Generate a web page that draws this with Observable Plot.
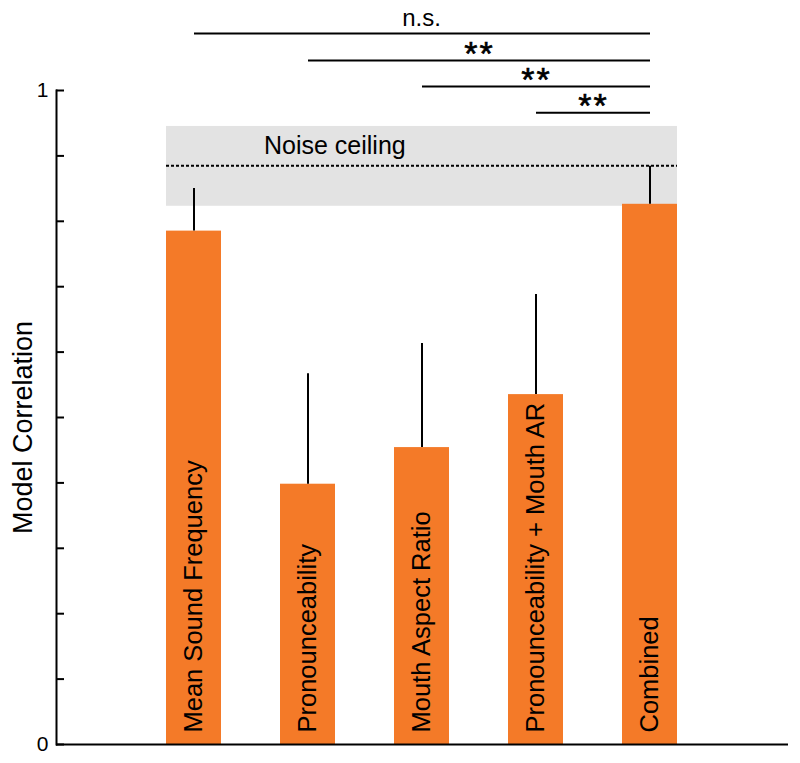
<!DOCTYPE html>
<html>
<head>
<meta charset="utf-8">
<script src="https://cdn.jsdelivr.net/npm/d3@7"></script>
<script src="https://cdn.jsdelivr.net/npm/@observablehq/plot@0.6"></script>
<style>
  html, body { margin: 0; padding: 0; background: #fff; }
  #chart svg { display: block; }
</style>
</head>
<body>
<div id="chart"></div>
<script>
// ---- data ----
const models = ["Mean Sound Frequency", "Pronounceability", "Mouth Aspect Ratio", "Pronounceability + Mouth AR", "Combined"];
const correlations = [0.785, 0.398, 0.454, 0.535, 0.826];
const errorTops = [0.850, 0.567, 0.613, 0.688, 0.884];

const noiseLower = 0.823;
const noiseUpper = 0.945;
const noiseCeiling = 0.884;
const noiseLabel = "Noise ceiling";

const compareFrom = ["Mean Sound Frequency", "Pronounceability", "Mouth Aspect Ratio", "Pronounceability + Mouth AR"];
const compareTo = ["Combined", "Combined", "Combined", "Combined"];
const compareLevel = [1.087, 1.046, 1.006, 0.966];
const compareLabel = ["n.s.", "**", "**", "**"];

const yTicks = [0, 0.1, 0.2, 0.3, 0.4, 0.5, 0.6, 0.7, 0.8, 0.9, 1];
const yTickLabels = [0, 1];
const yLabel = "Model Correlation";

// ---- layout / style ----
const FONT = "'Liberation Sans', Arial, Helvetica, sans-serif";
const W = 800, H = 763;
const M = {left: 56, right: 12, top: 90, bottom: 19};
const innerW = W - M.left - M.right;
const ORANGE = "#f47a28";

const data = models.map((m, i) => ({model: m, r: correlations[i], upper: errorTops[i]}));
const comparisons = compareFrom.map((f, i) => ({from: f, to: compareTo[i], level: compareLevel[i], label: compareLabel[i]}));

// noise ceiling band + dotted line, spanning from first to last bar, using Plot's scales
const noiseMark = (index, scales) => {
  const {x, y} = scales;
  const bw = x.bandwidth ? x.bandwidth() : 0;
  const x1 = x(models[0]);
  const x2 = x(models[models.length - 1]) + bw;
  const g = d3.create("svg:g");
  g.append("rect")
    .attr("x", x1).attr("y", y(noiseUpper))
    .attr("width", x2 - x1).attr("height", y(noiseLower) - y(noiseUpper))
    .attr("fill", "#e3e3e3");
  g.append("line")
    .attr("x1", x1).attr("x2", x2)
    .attr("y1", y(noiseCeiling)).attr("y2", y(noiseCeiling))
    .attr("stroke", "#000").attr("stroke-width", 2)
    .attr("stroke-dasharray", "3,2");
  return g.node();
};

// significance labels centred between compared bars
const sigLabelMark = (index, scales) => {
  const {x, y} = scales;
  const half = x.bandwidth ? x.bandwidth() / 2 : 0;
  const g = d3.create("svg:g").attr("font-family", FONT).attr("text-anchor", "middle").attr("fill", "#000");
  comparisons.forEach(c => {
    const cx = (x(c.from) + x(c.to)) / 2 + half;
    const isStar = c.label.startsWith("*");
    g.append("text")
      .attr("x", cx + (isStar ? 1 : 0))
      .attr("y", y(c.level) + (isStar ? 5 : -7.5))
      .attr("font-size", isStar ? 34 : 24)
      .attr("letter-spacing", isStar ? 2 : 0)
      .attr("stroke", isStar ? "#000" : "none")
      .attr("stroke-width", isStar ? 0.6 : 0)
      .text(c.label);
  });
  return g.node();
};

const chart = Plot.plot({
  width: W,
  height: H,
  marginLeft: M.left,
  marginRight: M.right,
  marginTop: M.top,
  marginBottom: M.bottom,
  style: {fontFamily: FONT, background: "#fff", color: "#000", overflow: "visible"},
  x: {domain: models, paddingInner: 0.5175, paddingOuter: 0.969, axis: null},
  y: {domain: [0, 1], axis: null},
  marks: [
    noiseMark,
    Plot.barY(data, {x: "model", y: "r", fill: ORANGE}),
    Plot.ruleX(data, {x: "model", y1: "r", y2: "upper", stroke: "#000", strokeWidth: 2}),
    Plot.text(data, {
      x: "model", y: () => 0, text: "model",
      rotate: -90, textAnchor: "start", lineAnchor: "middle",
      dy: -12, fontSize: 25.5, fill: "#000"
    }),
    Plot.text([noiseLabel], {
      x: () => models[0], y: () => (noiseUpper + noiseCeiling) / 2, text: d => d,
      textAnchor: "start", lineAnchor: "middle", dx: 70, fontSize: 25, fill: "#000"
    }),
    Plot.link(comparisons, {x1: "from", x2: "to", y1: "level", y2: "level", stroke: "#000", strokeWidth: 2}),
    sigLabelMark,
    Plot.tickY(yTicks, {y: d => d, insetRight: innerW - 8, stroke: "#000", strokeWidth: 2}),
    Plot.text(yTickLabels, {
      y: d => d, text: d => String(d), frameAnchor: "left", textAnchor: "end", lineAnchor: "middle",
      dx: -8, fontSize: 21, fill: "#000"
    }),
    Plot.text([yLabel], {
      text: d => d, frameAnchor: "left", rotate: -90, textAnchor: "middle", lineAnchor: "middle",
      dx: -33, dy: 10, fontSize: 27, fill: "#000"
    }),
    Plot.frame({anchor: "left", stroke: "#000", strokeWidth: 2}),
    Plot.ruleY([0], {stroke: "#000", strokeWidth: 2})
  ]
});

document.getElementById("chart").appendChild(chart);
</script>
</body>
</html>
